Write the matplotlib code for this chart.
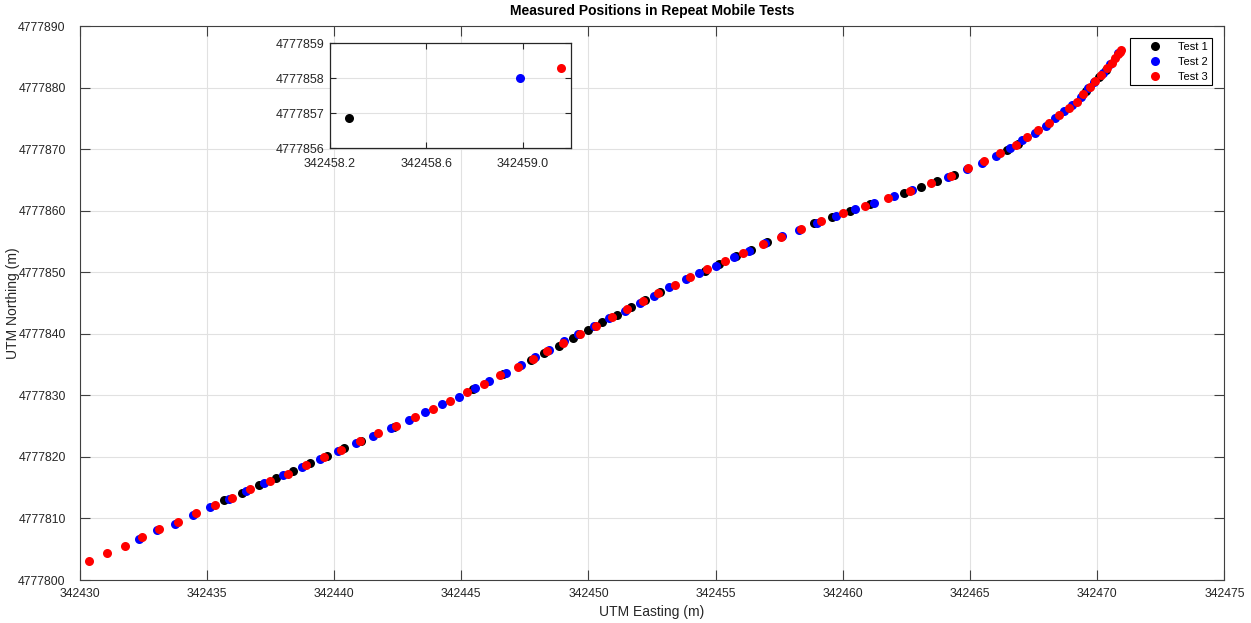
import numpy as np
import matplotlib
matplotlib.use('Agg')
import matplotlib.pyplot as plt

plt.rcParams['font.family'] = ['Liberation Sans', 'DejaVu Sans']

# UTM origin of the survey area (m)
e0 = 342430.0
n0 = 4777800.0

# Test 1 positions (offsets from origin, m)
east_1 = e0 + np.array([5.67, 6.39, 7.04, 7.71, 8.40, 9.07, 9.71, 10.41, 11.08, 12.34,
                        15.48, 16.64, 17.74, 18.27, 18.84, 19.38, 19.97, 20.55, 21.13, 21.67,
                        22.22, 22.81, 24.58, 25.14, 25.79, 26.39, 27.02, 28.86, 29.56, 30.27,
                        31.07, 32.40, 33.06, 33.72, 34.37, 36.46, 36.89, 39.55, 40.07, 40.34])
north_1 = n0 + np.array([12.95, 14.14, 15.39, 16.57, 17.76, 19.01, 20.20, 21.40, 22.60, 24.86,
                         30.99, 33.43, 35.80, 36.94, 38.07, 39.37, 40.58, 41.92, 43.11, 44.36,
                         45.55, 46.75, 50.21, 51.40, 52.65, 53.62, 54.88, 57.96, 58.99, 59.96,
                         61.05, 62.89, 63.86, 64.87, 65.86, 69.82, 70.90, 79.51, 81.78, 82.92])

# Test 2 positions
east_2 = e0 + np.array([2.34, 3.05, 3.75, 4.45, 5.14, 5.86, 6.56, 7.24, 8.00, 8.74,
                        9.46, 10.17, 10.88, 11.55, 12.25, 12.95, 13.58, 14.26, 14.91, 15.54,
                        16.10, 16.76, 17.35, 17.90, 18.46, 19.05, 19.59, 20.23, 20.82, 21.44,
                        22.04, 22.58, 23.18, 23.82, 24.35, 25.01, 25.71, 26.30, 26.96, 27.61,
                        28.28, 28.97, 29.72, 30.49, 31.21, 32.01, 32.73, 34.14, 34.87, 35.46,
                        36.01, 36.57, 37.03, 37.55, 37.98, 38.35, 38.69, 38.99, 39.35, 39.64,
                        39.88, 40.21, 40.50, 40.80])
north_2 = n0 + np.array([6.66, 8.08, 9.15, 10.56, 11.91, 13.11, 14.41, 15.81, 17.01, 18.36,
                         19.71, 20.91, 22.26, 23.40, 24.65, 26.00, 27.35, 28.60, 29.79, 31.15,
                         32.29, 33.64, 34.94, 36.19, 37.42, 38.84, 39.93, 41.32, 42.53, 43.71,
                         45.06, 46.20, 47.61, 48.86, 49.84, 51.07, 52.49, 53.51, 54.76, 55.95,
                         56.92, 57.96, 59.20, 60.24, 61.26, 62.35, 63.37, 65.49, 66.74, 67.81,
                         68.90, 70.25, 71.50, 72.68, 73.77, 75.07, 76.16, 77.19, 78.53, 79.90,
                         80.97, 82.43, 83.85, 85.59])

# Test 3 positions
east_3 = e0 + np.array([0.39, 1.08, 1.80, 2.44, 3.14, 3.86, 4.58, 5.31, 6.00, 6.71,
                        7.50, 8.19, 8.91, 9.61, 10.29, 11.02, 11.73, 12.45, 13.18, 13.88,
                        14.56, 15.23, 15.90, 16.54, 17.22, 17.81, 18.38, 19.01, 19.66, 20.29,
                        20.92, 21.53, 22.13, 22.73, 23.39, 23.99, 24.66, 25.37, 26.09, 26.86,
                        27.58, 28.34, 29.14, 30.02, 30.88, 31.76, 32.65, 33.46, 34.25, 34.93,
                        35.55, 36.17, 36.79, 37.24, 37.68, 38.09, 38.50, 38.87, 39.19, 39.45,
                        39.72, 39.92, 40.14, 40.37, 40.56, 40.69, 40.82, 40.89, 40.95])
north_3 = n0 + np.array([3.09, 4.44, 5.57, 6.94, 8.34, 9.47, 10.89, 12.19, 13.37, 14.74,
                         16.14, 17.27, 18.69, 19.94, 21.17, 22.54, 23.89, 25.07, 26.49, 27.84,
                         29.04, 30.50, 31.85, 33.26, 34.56, 35.91, 37.16, 38.51, 39.90, 41.32,
                         42.74, 44.04, 45.34, 46.59, 47.94, 49.19, 50.49, 51.84, 53.19, 54.52,
                         55.74, 57.09, 58.34, 59.64, 60.82, 62.03, 63.21, 64.46, 65.65, 66.90,
                         68.04, 69.43, 70.64, 71.94, 73.12, 74.21, 75.56, 76.65, 77.72, 78.97,
                         80.16, 81.09, 82.06, 83.15, 83.96, 84.77, 85.47, 85.85, 86.10])

# one simultaneous fix from each test, shown enlarged
snap_east = [342458.28, 342458.99, 342459.16]
snap_north = [4777856.87, 4777858.02, 4777858.29]

labels = ['Test 1', 'Test 2', 'Test 3']
colors = ['#000000', '#0000ff', '#ff0000']
series = [(east_1, north_1), (east_2, north_2), (east_3, north_3)]

txt = '#262626'
fig = plt.figure(figsize=(12.51, 6.23), dpi=100)
ax = fig.add_axes([0.0636, 0.069, 0.9152, 0.8892])

for (e, n), c, lab in zip(series, colors, labels):
    ax.plot(e, n, 'o', ms=6.5, mew=0, color=c, label=lab)

ax.set_xlim(342430, 342475)
ax.set_ylim(4777800, 4777890)
ax.set_xticks(np.arange(342430, 342476, 5))
ax.set_yticks(np.arange(4777800, 4777891, 10))
ax.ticklabel_format(useOffset=False, style='plain')
ax.grid(True, color='#e1e1e1', lw=0.8)
ax.set_axisbelow(True)
ax.tick_params(direction='in', length=7, width=0.8, colors='#404040',
               labelcolor=txt, labelsize=8.8, top=True, right=True)
ax.tick_params(axis='x', pad=6)
ax.tick_params(axis='y', pad=10)
for s in ax.spines.values():
    s.set_color('#404040')
    s.set_linewidth(0.8)

ax.set_title('Measured Positions in Repeat Mobile Tests', fontsize=10,
             fontweight='bold', color='#000000', pad=8)
ax.set_xlabel('UTM Easting (m)', fontsize=10, color=txt, labelpad=3)
ax.set_ylabel('UTM Northing (m)', fontsize=10, color=txt, labelpad=-1)

leg = ax.legend(loc='upper right', bbox_to_anchor=(1211.7 / 1251, 1 - 37.7 / 623),
                bbox_transform=fig.transFigure, borderaxespad=0, fontsize=8,
                fancybox=False, framealpha=1, edgecolor='#000000',
                handlelength=3.8, handletextpad=0.2, labelspacing=0.45,
                borderpad=0.35, markerscale=1.0)
leg.get_frame().set_linewidth(0.8)

# inset with the single-epoch comparison
ins = fig.add_axes([330 / 1251, 1 - 148.3 / 623, 240.7 / 1251, 105 / 623])
for e, n, c in zip(snap_east, snap_north, colors):
    ins.plot(e, n, 'o', ms=6.5, mew=0, color=c)
ins.set_xlim(342458.2, 342459.2)
ins.set_ylim(4777856, 4777859)
ins.set_xticks([342458.2, 342458.6, 342459.0])
ins.set_xticklabels(['342458.2', '342458.6', '342459.0'])
ins.set_yticks([4777856, 4777857, 4777858, 4777859])
ins.set_yticklabels(['4777856', '4777857', '4777858', '4777859'])
ins.grid(True, color='#e1e1e1', lw=0.8)
ins.set_axisbelow(True)
ins.tick_params(direction='in', length=4, width=0.8, colors='#262626',
                labelcolor=txt, labelsize=9, top=True, right=True)
ins.tick_params(axis='x', pad=7)
ins.tick_params(axis='y', pad=4)
for s in ins.spines.values():
    s.set_color('#262626')
    s.set_linewidth(0.9)

fig.savefig('out.png', dpi=100, facecolor='white')
